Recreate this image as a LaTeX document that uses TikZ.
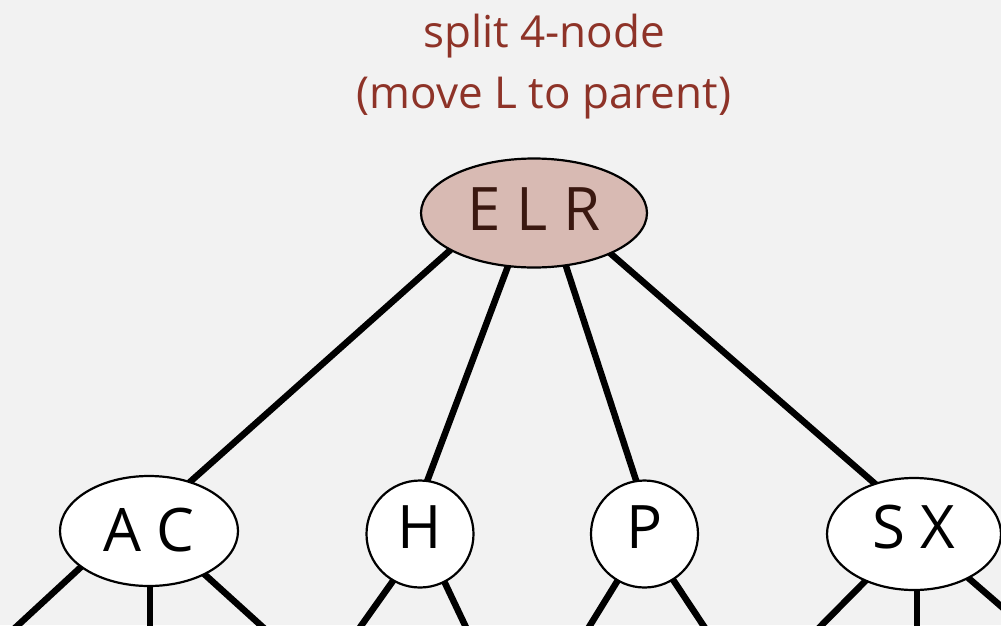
\documentclass[tikz,border=0pt]{standalone}
\usepackage{fontspec}
\setmainfont{Open Sans}
\usetikzlibrary{shapes.geometric}
\pgfdeclarelayer{bottom}
\pgfdeclarelayer{background}
\pgfsetlayers{bottom,background,main}
\definecolor{bg}{HTML}{F2F2F2}
\definecolor{titlered}{HTML}{8E3328}
\definecolor{rootfill}{HTML}{D8BAB3}
\definecolor{roottext}{HTML}{3A1810}
\tikzset{
  tnode/.style={ellipse, draw=black, line width=2.2pt, fill=white, inner sep=0pt,
    font=\fontsize{60}{60}\selectfont, text depth=14pt},
  link/.style={line width=6.5pt, black},
  title/.style={anchor=base, text=titlered, font=\fontsize{44}{44}\selectfont, inner sep=0pt}
}
\begin{document}
\begin{tikzpicture}[x=1pt,y=-1pt]
\begin{pgfonlayer}{bottom}
\fill[bg] (0,0) rectangle (1001,625);
\end{pgfonlayer}
\useasboundingbox (0,0) rectangle (1001,625);
\clip (0,0) rectangle (1001,625);

\node[title] (t1) at (544,47) {split 4-node};
\node[title] (t2) at (544,108) {(move L to parent)};

\node[tnode, fill=rootfill, text=roottext, minimum width=226pt, minimum height=109pt, text depth=7pt] (elr) at (534,213) {E L R};
\node[tnode, minimum width=178pt, minimum height=110pt, text depth=3pt] (ac) at (149,531) {A C};
\node[tnode, minimum width=107pt, minimum height=107pt] (h) at (420,534) {H};
\node[tnode, minimum width=107pt, minimum height=107pt] (p) at (644.5,534) {P};
\node[tnode, minimum width=174pt, minimum height=112pt] (sx) at (914,534) {S X};

\coordinate (ac1) at (2,640);
\coordinate (ac2) at (150,640);
\coordinate (ac3) at (277,640);
\coordinate (h1) at (351,640);
\coordinate (h2) at (472,640);
\coordinate (p1) at (581,640);
\coordinate (p2) at (713,640);
\coordinate (sx1) at (807,640);
\coordinate (sx2) at (917,640);
\coordinate (sx3) at (1040,640);

\begin{pgfonlayer}{background}
\draw[link, shorten <=-6pt, shorten >=-6pt] (elr.204) -- (ac.50);
\draw[link, shorten <=-6pt, shorten >=-6pt] (elr.244) -- (h.82);
\draw[link, shorten <=-6pt, shorten >=-6pt] (elr.301) -- (p.99.5);
\draw[link, shorten <=-6pt, shorten >=-6pt] (elr.332) -- (sx.128);
\draw[link, shorten <=-6pt] (ac.208) -- (ac1);
\draw[link, shorten <=-6pt] (ac2 |- ac.south) -- (ac2);
\draw[link, shorten <=-6pt] (ac.322) -- (ac3);
\draw[link, shorten <=-6pt] (h.240.6) -- (h1);
\draw[link, shorten <=-6pt] (h.297.5) -- (h2);
\draw[link, shorten <=-6pt] (p.240) -- (p1);
\draw[link, shorten <=-6pt] (p.302) -- (p2);
\draw[link, shorten <=-6pt] (sx.224) -- (sx1);
\draw[link, shorten <=-6pt] (sx2 |- sx.south) -- (sx2);
\draw[link, shorten <=-6pt] (sx.321) -- (sx3);
\end{pgfonlayer}
\end{tikzpicture}
\end{document}
